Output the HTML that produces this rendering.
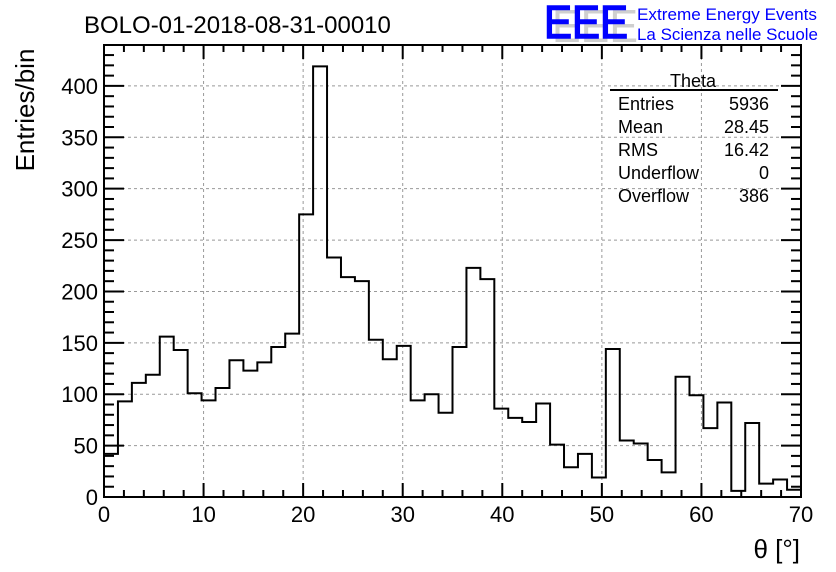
<!DOCTYPE html>
<html><head><meta charset="utf-8"><style>
html,body{margin:0;padding:0;background:#fff;}
svg{display:block;font-family:"Liberation Sans",sans-serif;}
</style></head><body>
<svg id="c" width="836" height="572" viewBox="0 0 836 572">
<text x="84" y="33" font-size="24">BOLO-01-2018-08-31-00010</text>
<g>
<text x="552" y="42" font-size="46" fill="#bbb" opacity="0.7" textLength="86" lengthAdjust="spacingAndGlyphs">EEE</text>
<text x="544" y="38" font-size="46" fill="#0000ff" textLength="84" lengthAdjust="spacingAndGlyphs" stroke="#0000ff" stroke-width="1.5">EEE</text>
<text x="637" y="20" font-size="16.5" fill="#0000ff" textLength="180" lengthAdjust="spacingAndGlyphs">Extreme Energy Events</text>
<text x="637" y="40" font-size="16.5" fill="#0000ff" textLength="181" lengthAdjust="spacingAndGlyphs">La Scienza nelle Scuole</text>
</g>
<g id="grid"></g><g id="ticks"></g><g id="hist"></g>
<rect x="104" y="45" width="697" height="452" fill="none" stroke="#000" stroke-width="2"/>
<g id="labels"></g>
<text x="34" y="110" font-size="26" transform="rotate(-90 34 110)" text-anchor="middle">Entries/bin</text>
<text x="800" y="558" font-size="26" text-anchor="end">θ [°]</text>
<g font-size="18">
<text x="693" y="87" text-anchor="middle">Theta</text>
<line x1="610" y1="90" x2="778" y2="90" stroke="#000" stroke-width="2"/>
<text x="618" y="110">Entries</text><text x="769" y="110" text-anchor="end">5936</text>
<text x="618" y="133">Mean</text><text x="769" y="133" text-anchor="end">28.45</text>
<text x="618" y="156">RMS</text><text x="769" y="156" text-anchor="end">16.42</text>
<text x="618" y="179">Underflow</text><text x="769" y="179" text-anchor="end">0</text>
<text x="618" y="202">Overflow</text><text x="769" y="202" text-anchor="end">386</text>
</g>
</svg>
<script>
const binCounts=[42,93,111,119,156,143,101,94,106,133,123,131,146,159,275,419,233,214,210,153,134,147,94,100,82,146,223,212,86,77,73,91,51,29,42,19,144,55,52,36,24,117,99,67,92,6,72,13,17,7];
const xTickLabels=[0,10,20,30,40,50,60,70];
const yTickLabels=[0,50,100,150,200,250,300,350,400];
const xMin=0,xMax=70,yMin=0,yMax=439.8;
const L=104,R=801,T=45,B=497;
const sx=v=>L+(v-xMin)/(xMax-xMin)*(R-L);
const sy=v=>B-(v-yMin)/(yMax-yMin)*(B-T);
const NS="http://www.w3.org/2000/svg";
function mk(tag,parent,attrs){const e=document.createElementNS(NS,tag);for(const k in attrs)e.setAttribute(k,attrs[k]);document.getElementById(parent).appendChild(e);return e;}
xTickLabels.forEach(v=>{if(v>xMin&&v<xMax){const g=mk('line','grid',{x1:sx(v),x2:sx(v),y1:T,y2:B,stroke:'#999','stroke-dasharray':'3,3'});

}});
yTickLabels.forEach(v=>{if(v>yMin){const g=mk('line','grid',{x1:L,x2:R,y1:sy(v),y2:sy(v),stroke:'#999','stroke-dasharray':'3,3'});

}});
for(let v=0;v<=70;v+=2){const maj=v%10===0;const len=maj?14:7;
mk('line','ticks',{x1:sx(v),x2:sx(v),y1:B,y2:B-len,stroke:'#000','stroke-width':2});
mk('line','ticks',{x1:sx(v),x2:sx(v),y1:T,y2:T+len,stroke:'#000','stroke-width':2});}
for(let v=0;v<=430;v+=10){const maj=v%50===0;const len=maj?20:10;
mk('line','ticks',{x1:L,x2:L+len,y1:sy(v),y2:sy(v),stroke:'#000','stroke-width':2});
mk('line','ticks',{x1:R,x2:R-len,y1:sy(v),y2:sy(v),stroke:'#000','stroke-width':2});}
xTickLabels.forEach(v=>{const t=mk('text','labels',{x:sx(v),y:522,'font-size':22,'text-anchor':'middle'});t.textContent=v;

});
yTickLabels.forEach(v=>{const t=mk('text','labels',{x:98,y:sy(v)+8,'font-size':22,'text-anchor':'end'});t.textContent=v;

});
const w=(xMax-xMin)/binCounts.length;
let d='M'+sx(0)+','+sy(0);
binCounts.forEach((c,i)=>{d+=' L'+sx(i*w)+','+sy(c)+' L'+sx((i+1)*w)+','+sy(c);});
d+=' L'+sx(xMax)+','+sy(0);
const p=mk('path','hist',{d:d,fill:'none',stroke:'#000','stroke-width':2});


</script>
</body></html>
